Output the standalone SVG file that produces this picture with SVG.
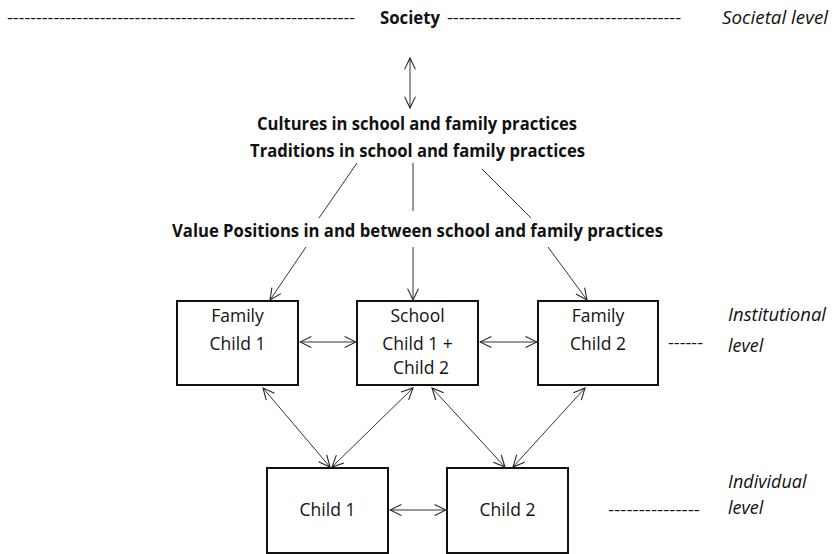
<svg xmlns="http://www.w3.org/2000/svg" width="834" height="554" viewBox="0 0 834 554">
<defs>
<marker id="ah" viewBox="0 0 12 12" refX="11" refY="6" markerWidth="13" markerHeight="13" markerUnits="userSpaceOnUse" orient="auto-start-reverse">
<path d="M0.5,1 L11,6 L0.5,11" fill="none" stroke="#222" stroke-width="1"/>
</marker>
<style>
text{font-family:"Open Sans","Liberation Sans",sans-serif;fill:#111}
.b{font-weight:bold;font-size:18px}
.n{font-size:17.5px}
.i{font-style:italic;font-size:18px}
.d{font-size:17px}
.box{fill:#fff;stroke:#111;stroke-width:2}
.c line{stroke:#333;stroke-width:1}
.a{marker-end:url(#ah)}
.aa{marker-end:url(#ah);marker-start:url(#ah)}
</style>
</defs>
<rect width="834" height="554" fill="#fff"/>

<g id="societal">
<text class="d" x="7" y="23" textLength="348" lengthAdjust="spacingAndGlyphs">------------------------------------------------------------</text>
<text class="b" x="410" y="24" text-anchor="middle" textLength="60" lengthAdjust="spacingAndGlyphs">Society</text>
<text class="d" x="447" y="23" textLength="234" lengthAdjust="spacingAndGlyphs">----------------------------------------</text>
<text class="i" x="722" y="24" textLength="106" lengthAdjust="spacingAndGlyphs">Societal level</text>
</g>

<g id="cultures">
<text class="b" x="257" y="130" textLength="320" lengthAdjust="spacingAndGlyphs">Cultures in school and family practices</text>
<text class="b" x="250" y="157" textLength="335" lengthAdjust="spacingAndGlyphs">Traditions in school and family practices</text>
</g>

<g id="values">
<text class="b" x="172" y="237" textLength="491" lengthAdjust="spacingAndGlyphs">Value Positions in and between school and family practices</text>
</g>

<g id="family1">
<rect class="box" x="177" y="301" width="121" height="84"/>
<text class="n" x="237.5" y="322" text-anchor="middle">Family</text>
<text class="n" x="237.5" y="350" text-anchor="middle">Child 1</text>
</g>

<g id="school">
<rect class="box" x="357" y="301" width="121" height="84"/>
<text class="n" x="417.5" y="322" text-anchor="middle">School</text>
<text class="n" x="417.5" y="350" text-anchor="middle">Child 1 +</text>
<text class="n" x="421" y="374" text-anchor="middle">Child 2</text>
</g>

<g id="family2">
<rect class="box" x="538" y="301" width="120" height="84"/>
<text class="n" x="598" y="322" text-anchor="middle">Family</text>
<text class="n" x="598" y="350" text-anchor="middle">Child 2</text>
</g>

<g id="institutional">
<text class="d" x="668" y="348" textLength="35" lengthAdjust="spacingAndGlyphs">------</text>
<text class="i" x="728" y="321" textLength="98" lengthAdjust="spacingAndGlyphs">Institutional</text>
<text class="i" x="728" y="352">level</text>
</g>

<g id="child1">
<rect class="box" x="267" y="468" width="121" height="85"/>
<text class="n" x="327.5" y="516" text-anchor="middle">Child 1</text>
</g>

<g id="child2">
<rect class="box" x="447" y="468" width="121" height="85"/>
<text class="n" x="507.5" y="516" text-anchor="middle">Child 2</text>
</g>

<g id="individual">
<text class="d" x="608" y="515" textLength="92" lengthAdjust="spacingAndGlyphs">---------------</text>
<text class="i" x="728" y="488">Individual</text>
<text class="i" x="728" y="514">level</text>
</g>

<g id="connectors" class="c">
<line class="aa" x1="410" y1="58" x2="410" y2="108"/>
<line x1="357" y1="163" x2="319" y2="218"/>
<line x1="413" y1="163" x2="413" y2="211"/>
<line x1="482" y1="169" x2="531" y2="218"/>
<line class="a" x1="306" y1="247" x2="270" y2="300"/>
<line class="a" x1="413" y1="247" x2="413" y2="300"/>
<line class="a" x1="548" y1="247" x2="587" y2="300"/>
<line class="aa" x1="300" y1="342" x2="356" y2="342"/>
<line class="aa" x1="480" y1="342" x2="537" y2="342"/>
<line class="aa" x1="263" y1="388" x2="330" y2="467"/>
<line class="aa" x1="413" y1="388" x2="332" y2="467"/>
<line class="aa" x1="432" y1="388" x2="505" y2="467"/>
<line class="aa" x1="585" y1="388" x2="513" y2="467"/>
<line class="aa" x1="390" y1="510" x2="446" y2="510"/>
</g>
</svg>
